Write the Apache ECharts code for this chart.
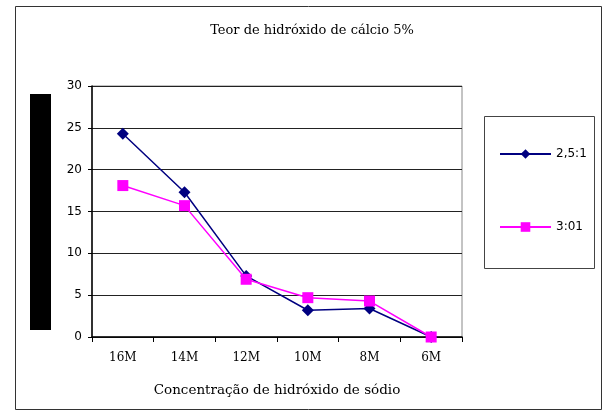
<!DOCTYPE html>
<html><head><meta charset="utf-8">
<script src="https://cdn.jsdelivr.net/npm/echarts@6/dist/echarts.min.js"></script>
<style>html,body{margin:0;padding:0;background:#fff}#c{width:612px;height:412px}</style>
</head><body><div id="c"></div>
<script>
const categories = ['16M','14M','12M','10M','8M','6M'];
const series25 = [24.3, 17.3, 7.3, 3.2, 3.4, 0];
const series30 = [18.1, 15.7, 6.9, 4.7, 4.3, 0];
const seriesNames = ['2,5:1','3:01'];
const titleText = 'Teor de hidróxido de cálcio 5%';
const xTitle = 'Concentração de hidróxido de sódio';

const chart = echarts.init(document.getElementById('c'));
chart.setOption({
  animation: false,
  backgroundColor: '#fff',
  title: {text: titleText, left: 307, top: 19, textAlign: 'center',
    textStyle: {fontFamily: 'DejaVu Serif', fontWeight: 'normal', fontSize: 13, color: '#000'}},
  grid: {left: 92, top: 86, width: 370, height: 251, containLabel: false,
    show: true, borderColor: '#888', borderWidth: 1},
  legend: {orient: 'vertical', left: 499, top: 148, padding: 0, itemGap: 61, itemWidth: 51, itemHeight: 12,
    textStyle: {fontFamily: 'DejaVu Sans', fontSize: 12, color: '#000'},
    data: seriesNames},
  xAxis: {type: 'category', data: categories, boundaryGap: true,
    name: xTitle, nameLocation: 'middle', nameGap: 46,
    nameTextStyle: {fontFamily: 'DejaVu Serif', fontSize: 13.5, color: '#000'},
    axisLine: {lineStyle: {color: '#000', width: 1.5}},
    axisTick: {show: true, alignWithLabel: false, length: 5, lineStyle: {color: '#000'}},
    axisLabel: {fontFamily: 'DejaVu Serif', fontSize: 12, color: '#000', margin: 15}},
  yAxis: {type: 'value', min: 0, max: 30, interval: 5,
    axisLine: {show: true, lineStyle: {color: '#000', width: 1.5}},
    axisTick: {show: true, length: 4, lineStyle: {color: '#000'}},
    axisLabel: {fontFamily: 'DejaVu Sans', fontSize: 12, color: '#000', margin: 10},
    splitLine: {lineStyle: {color: '#222', width: 1}}},
  graphic: [
    {type: 'rect', shape: {x: 15.5, y: 6.5, width: 586, height: 403}, style: {fill: 'none', stroke: '#333', lineWidth: 1}, z: -10},
    {type: 'rect', shape: {x: 30, y: 94, width: 21, height: 236}, style: {fill: '#000'}},
    {type: 'rect', shape: {x: 484.5, y: 116.5, width: 110, height: 152}, style: {fill: 'none', stroke: '#444', lineWidth: 1}}
  ],
  series: [
    {name: seriesNames[0], type: 'line', data: series25, symbol: 'diamond', symbolSize: 12,
      lineStyle: {color: '#000080', width: 1.5}, itemStyle: {color: '#000080'}},
    {name: seriesNames[1], type: 'line', data: series30, symbol: 'rect', symbolSize: 11,
      lineStyle: {color: '#FF00FF', width: 1.5}, itemStyle: {color: '#FF00FF'}}
  ]
});
</script></body></html>
